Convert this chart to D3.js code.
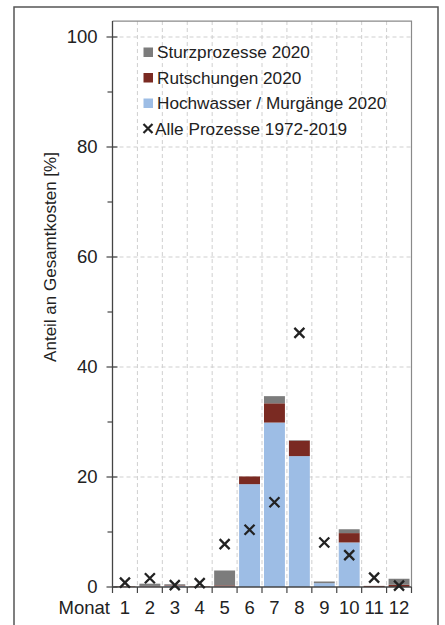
<!DOCTYPE html>
<html><head><meta charset="utf-8">
<script src="https://cdn.jsdelivr.net/npm/d3@7"></script>
<style>body{margin:0;background:#fff}svg{display:block}text{font-family:"Liberation Sans",Arial,sans-serif;fill:#222}</style>
</head><body>
<script>
const months = ["1","2","3","4","5","6","7","8","9","10","11","12"];
const hochwasser = [0.0, 0.1, 0.2, 0.0, 0.1, 18.7, 29.9, 23.8, 0.7, 8.1, 0.0, 0.0];
const rutschungen = [0.1, 0.1, 0.1, 0.1, 0.2, 1.4, 3.5, 2.8, 0.0, 1.7, 0.2, 0.4];
const sturz = [0.0, 0.4, 0.2, 0.0, 2.7, 0.0, 1.3, 0.1, 0.3, 0.7, 0.0, 1.1];
const alle = [0.8, 1.6, 0.35, 0.7, 7.8, 10.4, 15.4, 46.2, 8.1, 5.8, 1.7, 0.25];
const yTicks = [0, 20, 40, 60, 80, 100];
const yMinor = [10, 30, 50, 70, 90];
const seriesNames = ["Sturzprozesse 2020", "Rutschungen 2020", "Hochwasser / Murgänge 2020", "Alle Prozesse 1972-2019"];
const colors = {hw: "#9dbde5", ru: "#7a2a22", st: "#7c7c7c"};

const W = 445, H = 625;
const svg = d3.select("body").append("svg").attr("width", W).attr("height", H);
svg.append("rect").attr("width", W).attr("height", H).attr("fill", "#fff");
// outer frame
svg.append("rect").attr("x", 14).attr("y", 7).attr("width", 424).attr("height", 640)
  .attr("fill", "none").attr("stroke", "#555").attr("stroke-width", 1.5);

const x = d3.scaleBand().domain(months).range([112.5, 411.5]).paddingInner(0.16).paddingOuter(0.08);
const y = d3.scaleLinear().domain([0, 100]).range([587, 37]);
const x0 = 112.5, x1 = 411.5, yTop = y(102.9);

// grid
const g = svg.append("g");
yTicks.filter(d => d > 0).forEach(d => {
  g.append("line").attr("x1", x0).attr("x2", x1).attr("y1", y(d)).attr("y2", y(d))
    .attr("stroke", "#cfcfcf").attr("stroke-width", 1).attr("stroke-dasharray", "4,3");
});
d3.range(1, 12).forEach(i => {
  const xx = x0 + i * (x1 - x0) / 12;
  g.append("line").attr("x1", xx).attr("x2", xx).attr("y1", yTop).attr("y2", y(0))
    .attr("stroke", "#cfcfcf").attr("stroke-width", 1).attr("stroke-dasharray", "4,3");
});
// plot border top/right
svg.append("path").attr("d", `M${x0},${yTop}H${x1}V${y(0)}`).attr("fill", "none").attr("stroke", "#8a8a8a").attr("stroke-width", 1.2);

// stacked bars
const data = months.map((m, i) => ({m, hw: hochwasser[i], ru: rutschungen[i], st: sturz[i]}));
const stack = d3.stack().keys(["hw", "ru", "st"])(data);
svg.append("g").selectAll("g").data(stack).join("g").attr("fill", d => colors[d.key])
  .selectAll("rect").data(d => d).join("rect")
  .attr("x", d => x(d.data.m)).attr("width", x.bandwidth())
  .attr("y", d => y(d[1])).attr("height", d => Math.max(0, y(d[0]) - y(d[1])));

// axes lines
svg.append("line").attr("x1", x0).attr("x2", x0).attr("y1", yTop).attr("y2", y(0)).attr("stroke", "#444").attr("stroke-width", 1.3);
svg.append("line").attr("x1", x0).attr("x2", x1).attr("y1", y(0)).attr("y2", y(0)).attr("stroke", "#444").attr("stroke-width", 1.3);

// y ticks
yTicks.forEach(d => {
  svg.append("line").attr("x1", x0 - 6).attr("x2", x0 + 5).attr("y1", y(d)).attr("y2", y(d)).attr("stroke", "#444").attr("stroke-width", 1.2);
  svg.append("text").attr("x", x0 - 15).attr("y", y(d)).attr("dy", "0.3em").attr("text-anchor", "end")
    .attr("font-size", 18.5).text(d);
});
yMinor.forEach(d => {
  svg.append("line").attr("x1", x0 - 5).attr("x2", x0).attr("y1", y(d)).attr("y2", y(d)).attr("stroke", "#444").attr("stroke-width", 1.2);
});
// x ticks
d3.range(0, 13).forEach(i => {
  const xx = x0 + i * (x1 - x0) / 12;
  svg.append("line").attr("x1", xx).attr("x2", xx).attr("y1", y(0)).attr("y2", y(0) + 6).attr("stroke", "#444").attr("stroke-width", 1.2);
});
months.forEach(m => {
  svg.append("text").attr("x", x(m) + x.bandwidth() / 2).attr("y", 614).attr("text-anchor", "middle")
    .attr("font-size", 18.5).text(m);
});
svg.append("text").attr("x", 110).attr("y", 614).attr("text-anchor", "end").attr("font-size", 18.5).text("Monat");

// y title
svg.append("text").attr("transform", "translate(56,257) rotate(-90)").attr("text-anchor", "middle")
  .attr("font-size", 17).text("Anteil an Gesamtkosten [%]");

// crosses
const cs = 5;
svg.append("g").selectAll("path").data(alle).join("path")
  .attr("d", (d, i) => {
    const cx = x(months[i]) + x.bandwidth() / 2, cy = y(d);
    return `M${cx - cs},${cy - cs}L${cx + cs},${cy + cs}M${cx - cs},${cy + cs}L${cx + cs},${cy - cs}`;
  })
  .attr("stroke", "#222").attr("stroke-width", 2.3).attr("fill", "none");

// legend
const legY = [52, 77.5, 103, 128.5];
const legCol = [colors.st, colors.ru, colors.hw];
seriesNames.forEach((s, i) => {
  if (i < 3) {
    svg.append("rect").attr("x", 143.5).attr("y", legY[i] - 4.5).attr("width", 9.5).attr("height", 9.5).attr("fill", legCol[i]);
  } else {
    const cx = 148, cy = legY[i];
    svg.append("path").attr("d", `M${cx - 4.5},${cy - 4.5}L${cx + 4.5},${cy + 4.5}M${cx - 4.5},${cy + 4.5}L${cx + 4.5},${cy - 4.5}`)
      .attr("stroke", "#222").attr("stroke-width", 2.2);
  }
  svg.append("text").attr("x", i < 3 ? 157 : 155).attr("y", legY[i]).attr("dy", "0.36em").attr("font-size", 17.2).text(s);
});
</script>
</body></html>
